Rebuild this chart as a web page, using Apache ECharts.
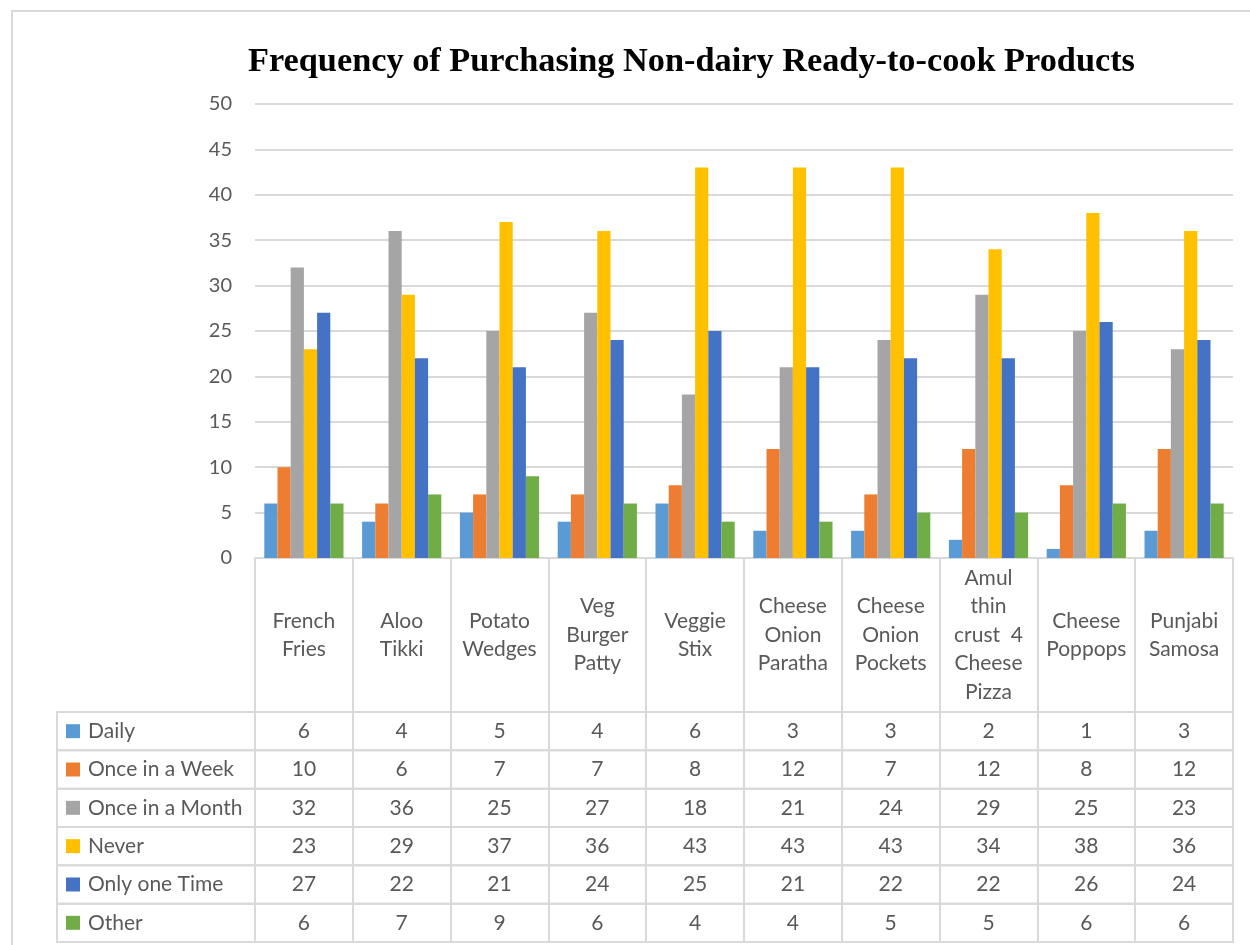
<!DOCTYPE html>
<html>
<head>
<meta charset="utf-8">
<script src="https://cdn.jsdelivr.net/npm/echarts@6/dist/echarts.min.js"></script>
<style>
  html, body { margin: 0; padding: 0; background: #ffffff; }
  #chart { width: 1250px; height: 945px; }
</style>
</head>
<body>
<div id="chart"></div>
<script>
// Products (tick labels, wrapped as shown in the header row of the table)
const categories = [
  'French\nFries', 'Aloo\nTikki', 'Potato\nWedges', 'Veg\nBurger\nPatty', 'Veggie\nStix',
  'Cheese\nOnion\nParatha', 'Cheese\nOnion\nPockets', 'Amul\nthin\ncrust  4\nCheese\nPizza',
  'Cheese\nPoppops', 'Punjabi\nSamosa'
];

// Purchase frequency series
const seriesNames = ['Daily', 'Once in a Week', 'Once in a Month', 'Never', 'Only one Time', 'Other'];
const daily        = [6, 4, 5, 4, 6, 3, 3, 2, 1, 3];
const onceInAWeek  = [10, 6, 7, 7, 8, 12, 7, 12, 8, 12];
const onceInAMonth = [32, 36, 25, 27, 18, 21, 24, 29, 25, 23];
const never        = [23, 29, 37, 36, 43, 43, 43, 34, 38, 36];
const onlyOneTime  = [27, 22, 21, 24, 25, 21, 22, 22, 26, 24];
const other        = [6, 7, 9, 6, 4, 4, 5, 5, 6, 6];

// Value axis ticks
const yTicks = { min: 0, max: 50, interval: 5 };

const seriesData = [daily, onceInAWeek, onceInAMonth, never, onlyOneTime, other];
const colors = ['#5B9BD5', '#ED7D31', '#A5A5A5', '#FFC000', '#4472C4', '#70AD47'];

const FONT = 'Lato';
const TEXT = '#595959';
const LINE = '#d9d9d9';
const TABLE_FS = 21;

// Layout of plot + data table
const plotLeft = 255, plotRight = 17, plotTop = 104, plotBottom = 558;
const headerH = 154;
const tableTop = plotBottom + headerH;   // first data row
const rowH = 38.33;
const legendColLeft = 57;

const grids = [{ left: plotLeft, right: plotRight, top: plotTop, height: plotBottom - plotTop }];
const xAxes = [{
  type: 'category',
  gridIndex: 0,
  data: categories,
  axisLine: { show: true, lineStyle: { color: LINE, width: 2 } },
  axisTick: { show: true, interval: 0, length: headerH, lineStyle: { color: LINE, width: 2 } },
  axisLabel: {
    interval: 0, margin: headerH / 2, verticalAlign: 'middle',
    fontFamily: FONT, fontSize: TABLE_FS, lineHeight: 28.5, color: TEXT
  },
  splitLine: { show: false }
}];
const yAxes = [{
  type: 'value',
  gridIndex: 0,
  min: yTicks.min, max: yTicks.max, interval: yTicks.interval,
  axisLine: { show: false },
  axisTick: { show: false },
  axisLabel: { fontFamily: FONT, fontSize: 20, color: TEXT, margin: 23 },
  splitLine: { lineStyle: { color: LINE, width: 2 } }
}];

// One thin grid per table row; its category axis labels carry the row values
seriesData.forEach((vals, i) => {
  grids.push({
    left: plotLeft, right: plotRight, top: tableTop + i * rowH, height: rowH,
    show: true, borderColor: LINE, borderWidth: 2, backgroundColor: 'transparent'
  });
  xAxes.push({
    type: 'category',
    gridIndex: i + 1,
    data: categories,
    position: 'bottom',
    axisLine: { show: false },
    axisTick: { show: false },
    splitLine: { show: true, interval: 0, lineStyle: { color: LINE, width: 2 } },
    axisLabel: {
      inside: true, interval: 0, margin: rowH / 2, verticalAlign: 'middle',
      fontFamily: FONT, fontSize: TABLE_FS, color: TEXT,
      formatter: (v, idx) => String(vals[idx])
    }
  });
  yAxes.push({ type: 'value', gridIndex: i + 1, min: 0, max: 1, show: false });
});

// Cells of the legend column on the left of the table
const legendCells = seriesNames.map((n, i) => ({
  type: 'rect',
  shape: { x: legendColLeft, y: tableTop + i * rowH, width: plotLeft - legendColLeft, height: rowH },
  style: { fill: 'transparent', stroke: LINE, lineWidth: 2 },
  silent: true
}));

const option = {
  backgroundColor: '#ffffff',
  animation: false,
  color: colors,
  title: {
    text: 'Frequency of Purchasing Non-dairy Ready-to-cook Products',
    left: 243,
    top: 40,
    textStyle: { fontFamily: 'Liberation Serif', fontWeight: 'bold', fontSize: 34.3, color: '#000000' }
  },
  legend: {
    orient: 'vertical',
    left: 66,
    top: tableTop + rowH / 2 - 11,
    padding: 0,
    itemWidth: 14,
    itemHeight: 14,
    itemGap: rowH - 22,
    icon: 'rect',
    data: seriesNames,
    textStyle: { fontFamily: FONT, fontSize: TABLE_FS, lineHeight: 22, color: TEXT, padding: [0, 0, 0, 3] }
  },
  grid: grids,
  xAxis: xAxes,
  yAxis: yAxes,
  graphic: [
    {
      type: 'rect',
      shape: { x: 12, y: 11, width: 1400, height: 1100 },
      style: { fill: 'transparent', stroke: LINE, lineWidth: 2 },
      silent: true
    },
    ...legendCells
  ],
  series: seriesNames.map((name, i) => ({
    name: name,
    type: 'bar',
    xAxisIndex: 0,
    yAxisIndex: 0,
    data: seriesData[i],
    barGap: '0%',
    barCategoryGap: '19%',
    itemStyle: { color: colors[i] }
  }))
};

const chart = echarts.init(document.getElementById('chart'), null, { renderer: 'canvas' });
chart.setOption(option);
</script>
</body>
</html>
